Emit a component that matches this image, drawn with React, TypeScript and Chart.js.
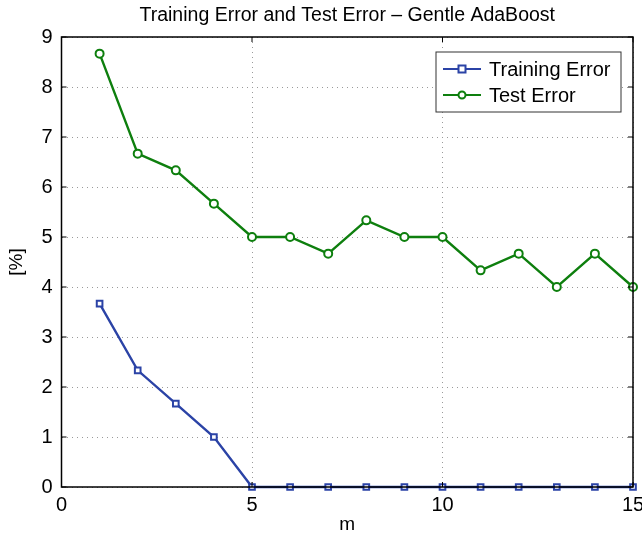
import React, { useEffect, useRef } from "react";
import { Chart, registerables } from "chart.js";

Chart.register(...registerables);

const iterations = [1, 2, 3, 4, 5, 6, 7, 8, 9, 10, 11, 12, 13, 14, 15];
const trainingError = [3.667, 2.333, 1.667, 1.0, 0, 0, 0, 0, 0, 0, 0, 0, 0, 0, 0];
const testError = [8.667, 6.667, 6.333, 5.667, 5.0, 5.0, 4.667, 5.333, 5.0, 5.0, 4.333, 4.667, 4.0, 4.667, 4.0];
const seriesNames = ["Training Error", "Test Error"];
const titleText = "Training Error and Test Error \u2013 Gentle AdaBoost";
const xTitle = "m";
const yTitle = "[%]";

const BLUE = "#2B43A6";
const GREEN = "#0E7F0E";
const FONT = "'Liberation Sans', Arial, Helvetica, sans-serif";

const framePlugin = {
  id: "frame",
  afterDraw(chart: any) {
    const { ctx, chartArea } = chart;
    const { left, right, top, bottom } = chartArea;
    const xs = chart.scales.x;
    const ys = chart.scales.y;
    ctx.save();
    ctx.strokeStyle = "#000";
    ctx.lineWidth = 1.5;
    ctx.strokeRect(left, top, right - left, bottom - top);
    ctx.lineWidth = 1;
    const tl = 5;
    xs.ticks.forEach((t: any) => {
      const px = xs.getPixelForValue(t.value);
      ctx.beginPath();
      ctx.moveTo(px, bottom);
      ctx.lineTo(px, bottom - tl);
      ctx.moveTo(px, top);
      ctx.lineTo(px, top + tl);
      ctx.stroke();
    });
    ys.ticks.forEach((t: any) => {
      const py = ys.getPixelForValue(t.value);
      ctx.beginPath();
      ctx.moveTo(left, py);
      ctx.lineTo(left + tl, py);
      ctx.moveTo(right, py);
      ctx.lineTo(right - tl, py);
      ctx.stroke();
    });
    ctx.fillStyle = "#000";
    ctx.font = `19.5px ${FONT}`;
    ctx.textAlign = "center";
    ctx.textBaseline = "alphabetic";
    ctx.fillText(titleText, (left + right) / 2, 21);
    const lx = 436, ly = 52, lw = 185, lh = 60;
    ctx.fillStyle = "#fff";
    ctx.fillRect(lx, ly, lw, lh);
    ctx.strokeStyle = "#333";
    ctx.lineWidth = 1;
    ctx.strokeRect(lx, ly, lw, lh);
    const entries = [
      { name: seriesNames[0], color: BLUE, y: ly + 17, shape: "square" },
      { name: seriesNames[1], color: GREEN, y: ly + 43, shape: "circle" },
    ];
    entries.forEach((e) => {
      ctx.strokeStyle = e.color;
      ctx.lineWidth = 2.2;
      ctx.beginPath();
      ctx.moveTo(lx + 7, e.y);
      ctx.lineTo(lx + 45, e.y);
      ctx.stroke();
      ctx.fillStyle = "#fff";
      ctx.lineWidth = 2;
      if (e.shape === "square") {
        ctx.fillRect(lx + 22.5, e.y - 3.5, 7, 7);
        ctx.strokeRect(lx + 22.5, e.y - 3.5, 7, 7);
      } else {
        ctx.beginPath();
        ctx.arc(lx + 26, e.y, 3.5, 0, Math.PI * 2);
        ctx.fill();
        ctx.stroke();
      }
      ctx.fillStyle = "#000";
      ctx.font = `20px ${FONT}`;
      ctx.textAlign = "left";
      ctx.textBaseline = "middle";
      ctx.fillText(e.name, lx + 53, e.y + 1);
    });
    ctx.restore();
  },
};

export default function App() {
  const ref = useRef<HTMLCanvasElement | null>(null);
  useEffect(() => {
    if (!ref.current) return;
    const mkDs = (name: string, vals: number[], color: string, style: string) => ({
      label: name,
      data: iterations.map((x, i) => ({ x, y: vals[i] })),
      borderColor: color,
      backgroundColor: "#fff",
      borderWidth: 2.4,
      pointStyle: style,
      pointRadius: 4,
      pointBorderWidth: 2,
      pointBorderColor: color,
      pointBackgroundColor: "#fff",
      clip: 8,
    });
    const chart = new Chart(ref.current, {
      type: "line",
      data: {
        datasets: [
          mkDs(seriesNames[0], trainingError, BLUE, "rect"),
          mkDs(seriesNames[1], testError, GREEN, "circle"),
        ],
      },
      options: {
        animation: false,
        responsive: false,
        maintainAspectRatio: false,
        layout: { padding: { left: 0, right: 9, top: 37, bottom: 0 } },
        plugins: {
          legend: { display: false },
          title: { display: false },
          tooltip: { enabled: false },
        },
        scales: {
          x: {
            type: "linear",
            min: 0,
            max: 15,
            afterFit: (s: any) => {
              s.height = 50;
              s.paddingLeft = 0;
              s.paddingRight = 0;
            },
            ticks: {
              stepSize: 5,
              color: "#000",
              padding: 6,
              font: { family: FONT, size: 20 },
            },
            grid: {
              color: "#9a9a9a",
              lineWidth: 1,
              drawTicks: false,
            },
            border: { display: false, dash: [1, 4] },
            title: {
              display: true,
              text: xTitle,
              color: "#000",
              font: { family: FONT, size: 19 },
              padding: { top: 0, bottom: 1 },
            },
          },
          y: {
            type: "linear",
            min: 0,
            max: 9,
            afterFit: (s: any) => {
              s.width = 61.5;
              s.paddingTop = 0;
              s.paddingBottom = 0;
            },
            ticks: {
              stepSize: 1,
              color: "#000",
              padding: 9,
              font: { family: FONT, size: 20 },
            },
            grid: {
              color: "#9a9a9a",
              lineWidth: 1,
              drawTicks: false,
            },
            border: { display: false, dash: [1, 4] },
            title: {
              display: true,
              text: yTitle,
              color: "#000",
              font: { family: FONT, size: 19 },
              padding: { top: 5, bottom: 0 },
            },
          },
        },
      },
      plugins: [framePlugin],
    } as any);
    return () => chart.destroy();
  }, []);
  return (
    <div style={{ position: "fixed", left: 0, top: 0, width: 642, height: 537, background: "#fff" }}>
      <canvas ref={ref} width={642} height={537} style={{ width: 642, height: 537, display: "block" }} />
    </div>
  );
}
